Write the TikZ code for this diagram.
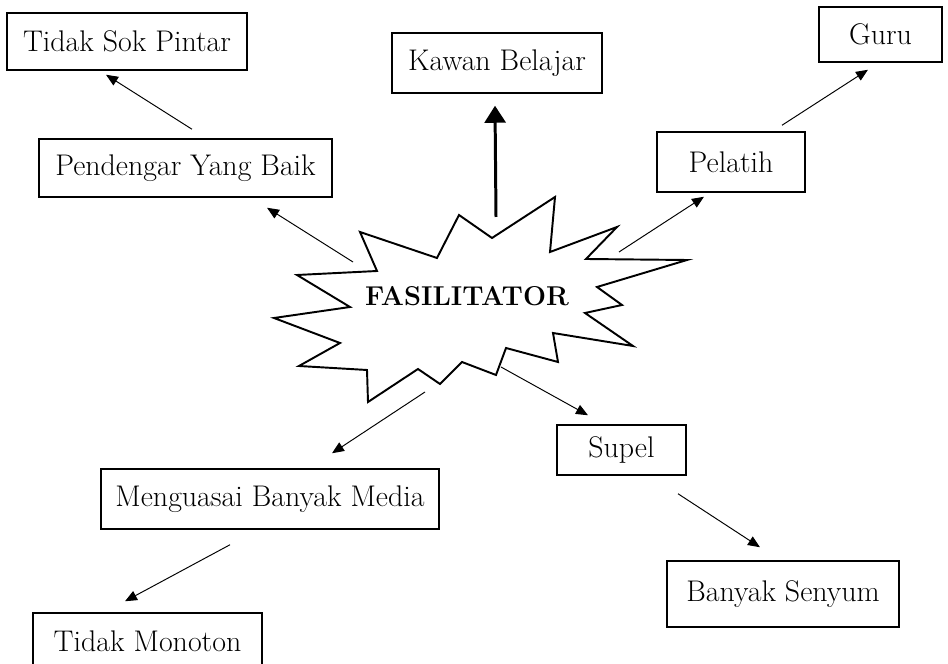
\documentclass[tikz,border=0pt]{standalone}
\usepackage{tikz}
\usetikzlibrary{arrows.meta}
\usetikzlibrary{positioning}

\tikzset{
  kotak/.style={draw, line width=0.85pt, inner sep=0pt, font=\fontsize{17}{20}\selectfont},
  panah/.style={line width=0.55pt, -{Triangle[length=2.4mm, width=2mm]}},
  panahtebal/.style={line width=1.7pt, -{Triangle[length=3.4mm, width=4.2mm]}}
}

\begin{document}
\begin{tikzpicture}[x=0.2mm, y=-0.2mm]
  \useasboundingbox (0, 0) rectangle (948, 664);
  \clip (0, 0) rectangle (948, 664);

  % the burst
  \draw[line width=1.1pt, line join=miter, fill=white]
    (555, 197) -- (550, 252) -- (617, 227) -- (586, 259) -- (687, 260)
    -- (597, 287) -- (622, 305) -- (585, 313) -- (633, 346) -- (553, 333)
    -- (558, 362) -- (506, 348) -- (496, 375) -- (462, 362) -- (440, 384)
    -- (418, 369) -- (368, 402) -- (367, 370) -- (299, 366) -- (340, 343)
    -- (274, 318) -- (350, 307) -- (297, 275) -- (377, 271) -- (360, 232)
    -- (437, 258) -- (459, 215) -- (492, 238) -- cycle;
  \node[font=\fontsize{15.5}{20}\selectfont\bfseries] (fasil) at (467, 296) {FASILITATOR};

  \node[kotak, minimum width=48mm, minimum height=11.4mm] (tidaksok) at (127, 41.5) {Tidak Sok Pintar};
  \node[kotak, minimum width=58.6mm, minimum height=11.6mm] (pendengar) at (185.5, 168) {Pendengar Yang Baik};
  \node[kotak, minimum width=42mm, minimum height=12mm] (kawan) at (497, 63) {Kawan Belajar};
  \node[kotak, minimum width=24.6mm, minimum height=11mm] (guru) at (880.5, 34.5) {Guru};
  \node[kotak, minimum width=29.6mm, minimum height=12mm] (pelatih) at (731, 162) {Pelatih};
  \node[kotak, minimum width=67.6mm, minimum height=12mm] (menguasai) at (270, 499) {Menguasai Banyak Media};
  \node[kotak, minimum width=45.8mm, minimum height=11.2mm] (monoton) at (147.5, 641) {Tidak Monoton};
  \node[kotak, minimum width=25.8mm, minimum height=10mm] (supel) at (621.5, 450) {Supel};
  \node[kotak, minimum width=46.4mm, minimum height=13.2mm] (senyum) at (783, 594) {Banyak Senyum};

  \draw[panahtebal] ([shift={(29, -79)}]fasil.center) -- ([shift={(-2, 12)}]kawan.south);
  \draw[panah] ([shift={(-114, -34)}]fasil.center) -- ([shift={(81.5, 10)}]pendengar.south);
  \draw[panah] ([shift={(6.5, -9)}]pendengar.north) -- ([shift={(-21, 4)}]tidaksok.south);
  \draw[panah] ([shift={(152, -44)}]fasil.center) -- ([shift={(-27, 4)}]pelatih.south);
  \draw[panah] ([shift={(51, -6)}]pelatih.north) -- ([shift={(-12.5, 7)}]guru.south);
  \draw[panah] ([shift={(34, 71)}]fasil.center) -- ([shift={(-33.5, -9)}]supel.north);
  \draw[panah] ([shift={(56.5, 18)}]supel.south) -- ([shift={(-23, -13)}]senyum.north);
  \draw[panah] ([shift={(-42, 96)}]fasil.center) -- ([shift={(62, -15)}]menguasai.north);
  \draw[panah] ([shift={(-40, 15)}]menguasai.south) -- ([shift={(-22.5, -11)}]monoton.north);
\end{tikzpicture}
\end{document}
